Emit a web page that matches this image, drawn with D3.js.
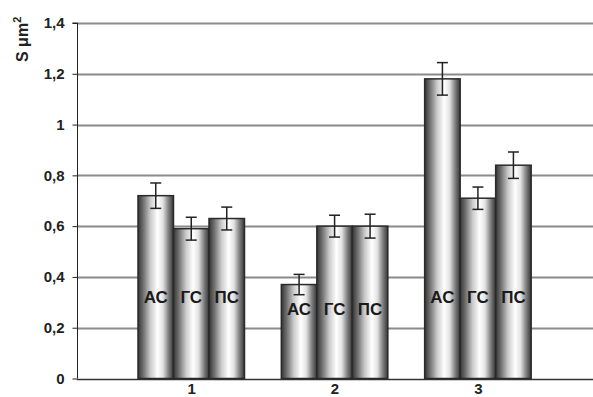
<!DOCTYPE html>
<html><head><meta charset="utf-8">
<script src="https://cdn.jsdelivr.net/npm/d3@7"></script>
<style>body{margin:0;background:#fff;} svg{display:block;}</style>
</head><body>
<svg id="c" width="593" height="397"></svg>
<script>
const groups = ["1", "2", "3"];
const series = ["АС", "ГС", "ПС"];
const valuesAC = [0.72, 0.37, 1.18];
const valuesGC = [0.59, 0.60, 0.71];
const valuesPC = [0.63, 0.60, 0.84];
const errAC = [0.05, 0.04, 0.064];
const errGC = [0.045, 0.043, 0.044];
const errPC = [0.045, 0.047, 0.052];
const yTicks = [0, 0.2, 0.4, 0.6, 0.8, 1, 1.2, 1.4];
const yTitle = "S\u00A0μm";

const vals = [valuesAC, valuesGC, valuesPC];
const errs = [errAC, errGC, errPC];

const svg = d3.select("#c");
const font = "'Liberation Sans', Arial, sans-serif";
const x0 = 77, xRight = 593;
const y = d3.scaleLinear().domain([0, 1.4]).range([378.5, 23]);
const x = d3.scaleBand().domain(groups).range([119.5, 549.5]).paddingInner(0).paddingOuter(0);
const xs = d3.scaleBand().domain(series).range([18.5, 125]);

const defs = svg.append("defs");
const g = defs.append("linearGradient").attr("id", "bar").attr("x1", "0%").attr("x2", "100%").attr("y1", "0%").attr("y2", "0%");
[[0, "#353535"], [0.15, "#707070"], [0.35, "#cacaca"], [0.55, "#ffffff"], [0.7, "#e3e3e3"], [0.85, "#858585"], [1, "#353535"]]
  .forEach(([o, c]) => g.append("stop").attr("offset", o).attr("stop-color", c));

// gridlines
svg.append("g").selectAll("line").data(yTicks.filter(d => d > 0)).join("line")
  .attr("x1", x0).attr("x2", xRight)
  .attr("y1", d => Math.round(y(d)) + 0.5).attr("y2", d => Math.round(y(d)) + 0.5)
  .attr("stroke", "#8a8a8a").attr("stroke-width", 1.8);

// y axis
const yAxis = d3.axisLeft(y).tickValues(yTicks).tickSize(5).tickPadding(8)
  .tickFormat(d => d3.format("")(+d.toFixed(1)).replace(".", ","));
const ya = svg.append("g").attr("transform", `translate(${x0 + 0.5},0)`).call(yAxis);
ya.select(".domain").attr("stroke", "#222").attr("d", `M-5,${y(1.4)}H0V${y(0)}`);
ya.selectAll(".tick line").attr("stroke", "#222");
ya.selectAll(".tick text").attr("font-family", font).attr("font-weight", "bold").attr("font-size", 15).attr("fill", "#222");

// x axis line
svg.append("line").attr("x1", x0).attr("x2", xRight).attr("y1", Math.round(y(0)) + 0.5).attr("y2", Math.round(y(0)) + 0.5)
  .attr("stroke", "#333").attr("stroke-width", 1.5);

// x labels
svg.append("g").selectAll("text").data(groups).join("text")
  .attr("x", d => x(d) + x.bandwidth() / 2 + 0.5).attr("y", 394)
  .attr("text-anchor", "middle").attr("font-family", font).attr("font-weight", "bold").attr("font-size", 15).attr("fill", "#222")
  .text(d => d);

// bars
const data = [];
groups.forEach((gname, gi) => series.forEach((s, si) => data.push({ g: gname, gi, s, si, v: vals[si][gi], e: errs[si][gi] })));

const bars = svg.append("g");
bars.selectAll("rect").data(data).join("rect")
  .attr("x", d => x(d.g) + xs(d.s)).attr("width", xs.bandwidth())
  .attr("y", d => y(d.v)).attr("height", d => y(0) - y(d.v))
  .attr("fill", "url(#bar)").attr("stroke", "#2a2a2a").attr("stroke-width", 1.5);

// error bars
const eb = svg.append("g").attr("stroke", "#222").attr("stroke-width", 1.5);
data.forEach(d => {
  const cx = x(d.g) + xs(d.s) + xs.bandwidth() / 2;
  eb.append("line").attr("x1", cx).attr("x2", cx).attr("y1", y(d.v + d.e)).attr("y2", y(d.v - d.e));
  [d.v + d.e, d.v - d.e].forEach(v => eb.append("line").attr("x1", cx - 5.5).attr("x2", cx + 5.5).attr("y1", y(v)).attr("y2", y(v)));
});

// labels inside bars
svg.append("g").selectAll("text").data(data).join("text")
  .attr("x", d => x(d.g) + xs(d.s) + xs.bandwidth() / 2)
  .attr("y", d => {
    const minTop = y(d3.min(vals, a => a[d.gi]));
    return Math.max(303, minTop + 30);
  })
  .attr("text-anchor", "middle").attr("font-family", font).attr("font-weight", "bold").attr("font-size", 17).attr("fill", "#1a1a1a")
  .text(d => d.s);

// y title
const t = svg.append("text").attr("transform", "translate(28,62) rotate(-90)")
  .attr("text-anchor", "start").attr("font-family", font).attr("font-weight", "bold").attr("font-size", 16).attr("fill", "#222");
t.append("tspan").text(yTitle);
t.append("tspan").attr("dy", -7).attr("font-size", 11).text("2");
</script>
</body></html>
